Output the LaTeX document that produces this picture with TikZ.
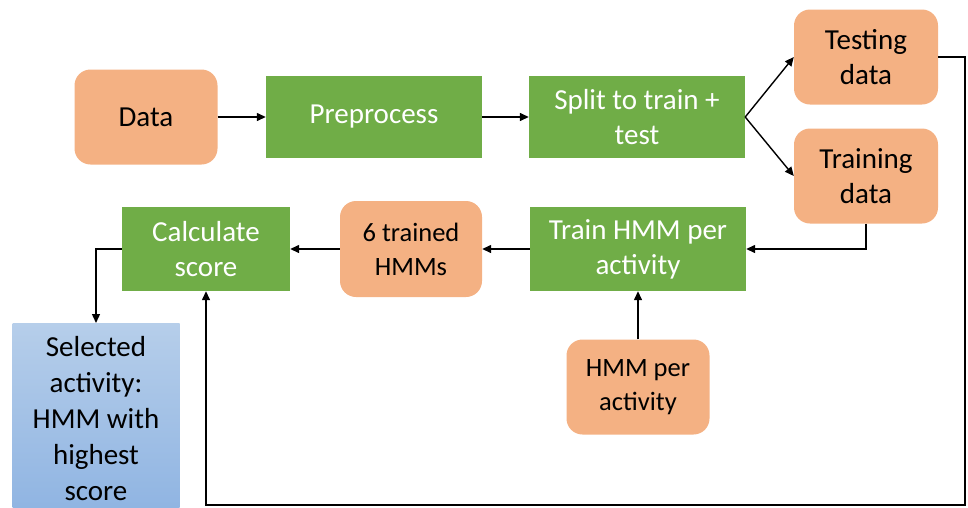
\documentclass[tikz,border=0pt]{standalone}
\usepackage{fontspec}
\setmainfont{Carlito}
\usetikzlibrary{arrows.meta}

\definecolor{ora}{RGB}{244,177,131}
\definecolor{gre}{RGB}{112,173,71}
\definecolor{bluet}{RGB}{182,206,234}
\definecolor{blueb}{RGB}{143,180,226}

\tikzset{
    orbox/.style={fill=ora,rounded corners=16pt,align=center,text=black,
        font=\fontsize{29}{35}\selectfont},
    grbox/.style={fill=gre,align=center,text=white,
        font=\fontsize{29}{35}\selectfont},
    arr/.style={-{Triangle[length=9pt,width=8pt]},line width=1.4pt}
}

\begin{document}
\begin{tikzpicture}[x=1pt,y=-1pt]
    \useasboundingbox (0,0) rectangle (968,507);
    %
    \node[orbox,minimum width=143pt,minimum height=95pt] (data) at (146,117) {Data};
    \node[grbox,minimum width=216pt,minimum height=82pt] (prep) at (374,117) {Preprocess};
    \node[grbox,minimum width=216pt,minimum height=82pt] (split) at (637,117) {Split to train +\\test};
    \node[orbox,minimum width=144pt,minimum height=95pt] (test) at (866,57) {Testing\\data};
    \node[orbox,minimum width=144pt,minimum height=95pt] (train) at (866,176) {Training\\data};
    %
    \node[grbox,minimum width=216pt,minimum height=84pt] (hmm) at (638,249) {Train HMM per\\activity};
    \node[orbox,minimum width=142pt,minimum height=96pt,
        font=\fontsize{26.5}{34}\selectfont] (trained) at (411,249) {6 trained\\HMMs};
    \node[grbox,minimum width=168pt,minimum height=84pt] (calc) at (206,249) {Calculate\\score};
    \node[orbox,minimum width=143pt,minimum height=95pt,
        font=\fontsize{26.5}{34}\selectfont] (act) at (638,387) {HMM per\\activity};
    %
    \node[top color=bluet,bottom color=blueb,minimum width=167pt,minimum height=190pt,
        align=center,font=\fontsize{29}{36}\selectfont,anchor=north] (sel) at (96,323)
        {Selected\\activity:\\HMM with\\highest\\score};
    %
    \coordinate (loop) at (965,505);
    %
    \draw[arr] (data) -- (prep);
    \draw[arr] (prep) -- (split);
    \draw[arr] (split.east) -- (test.west);
    \draw[arr] (split.east) -- (train.west);
    \draw[arr] (test.east) -| (loop) -| (calc.south);
    \draw[arr] (train.south) |- (hmm.east);
    \draw[arr] (hmm) -- (trained);
    \draw[arr] (trained) -- (calc);
    \draw[arr] (act) -- (hmm);
    \draw[arr] (calc.west) -| (sel.north);
    %
\end{tikzpicture}
\end{document}
